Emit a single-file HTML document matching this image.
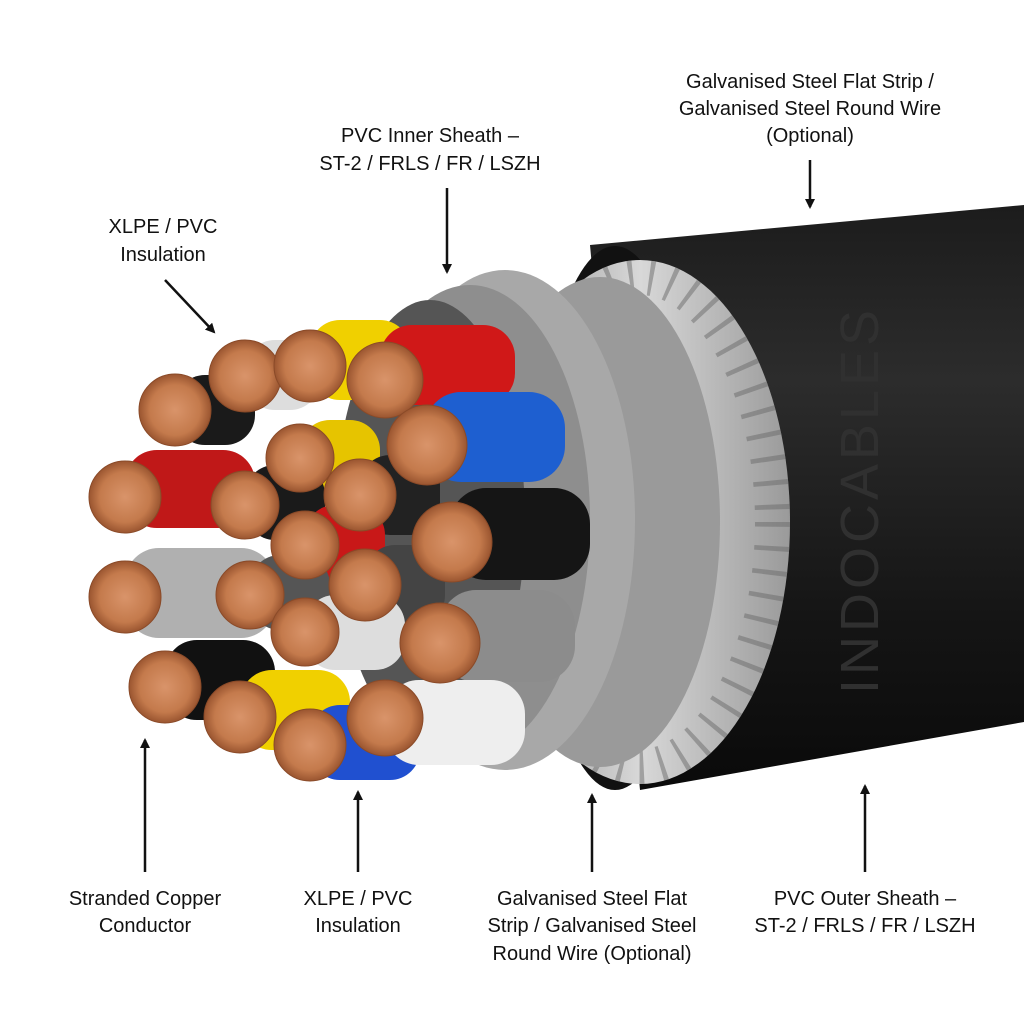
<!DOCTYPE html>
<html><head><meta charset="utf-8"><style>
html,body{margin:0;padding:0;background:#fff;width:1024px;height:1024px;overflow:hidden}
svg{display:block}
text{font-family:"Liberation Sans",sans-serif;font-size:20px;fill:#111;text-anchor:middle}
</style></head><body>
<svg width="1024" height="1024" viewBox="0 0 1024 1024" xmlns="http://www.w3.org/2000/svg">
<defs>
<linearGradient id="sh" x1="0" y1="0" x2="0" y2="1">
<stop offset="0" stop-color="#1c1c1c"/><stop offset="0.3" stop-color="#2c2c2c"/><stop offset="0.7" stop-color="#151515"/><stop offset="1" stop-color="#0a0a0a"/></linearGradient>
<linearGradient id="ar" x1="0" y1="0" x2="1" y2="0">
<stop offset="0" stop-color="#8a8a8a"/><stop offset="0.5" stop-color="#d8d8d8"/><stop offset="1" stop-color="#9a9a9a"/></linearGradient>
<radialGradient id="cu" cx="0.5" cy="0.5" r="0.5">
<stop offset="0" stop-color="#d9946a"/><stop offset="0.7" stop-color="#c47a4c"/><stop offset="1" stop-color="#9a5530"/></radialGradient>
<clipPath id="ac"><ellipse cx="640" cy="522" rx="150" ry="262"/></clipPath>
<marker id="ah" markerWidth="10" markerHeight="10" refX="8" refY="5" orient="auto" markerUnits="userSpaceOnUse"><path d="M0,0 L10,5 L0,10 z" fill="#111"/></marker>
</defs>
<path d="M590,245 L1024,205 L1024,722 L640,790 Z" fill="url(#sh)"/>
<ellipse cx="615" cy="518" rx="80" ry="272" fill="#111"/>
<ellipse cx="640" cy="522" rx="150" ry="262" fill="url(#ar)"/>
<g clip-path="url(#ac)">
<ellipse cx="640" cy="522" rx="150" ry="262" fill="none" stroke="#6a6a6a" stroke-width="70" stroke-dasharray="5 20" opacity="0.5"/>
</g>
<ellipse cx="600" cy="522" rx="120" ry="245" fill="#9a9a9a"/>
<ellipse cx="505" cy="520" rx="130" ry="250" fill="#a8a8a8"/>
<ellipse cx="470" cy="520" rx="120" ry="235" fill="#8e8e8e"/>
<ellipse cx="430" cy="520" rx="95" ry="220" fill="#555"/>
<g>
<rect x="175" y="375" width="80" height="70" rx="30" fill="#1a1a1a"/>
<rect x="245" y="340" width="75" height="70" rx="30" fill="#ddd"/>
<rect x="310" y="320" width="100" height="80" rx="30" fill="#f0d000"/>
<rect x="380" y="325" width="135" height="80" rx="32" fill="#d01818"/>
<rect x="125" y="450" width="130" height="78" rx="32" fill="#c01818"/>
<rect x="300" y="420" width="80" height="72" rx="30" fill="#e6c400"/>
<rect x="245" y="465" width="80" height="75" rx="30" fill="#1a1a1a"/>
<rect x="425" y="392" width="140" height="90" rx="36" fill="#1e5fd0"/>
<rect x="360" y="455" width="80" height="80" rx="30" fill="#222"/>
<rect x="450" y="488" width="140" height="92" rx="36" fill="#151515"/>
<rect x="125" y="548" width="150" height="90" rx="34" fill="#b0b0b0"/>
<rect x="305" y="505" width="80" height="75" rx="30" fill="#c81818"/>
<rect x="250" y="555" width="80" height="75" rx="30" fill="#555"/>
<rect x="365" y="545" width="80" height="80" rx="30" fill="#444"/>
<rect x="440" y="590" width="135" height="92" rx="36" fill="#8c8c8c"/>
<rect x="165" y="640" width="110" height="80" rx="32" fill="#111"/>
<rect x="305" y="595" width="100" height="75" rx="30" fill="#ddd"/>
<rect x="240" y="670" width="110" height="80" rx="32" fill="#f0d000"/>
<rect x="310" y="705" width="110" height="75" rx="30" fill="#2050d0"/>
<rect x="385" y="680" width="140" height="85" rx="34" fill="#eee"/>
</g>
<g fill="url(#cu)" stroke="#8a4a28" stroke-width="1">
<circle cx="175" cy="410" r="36"/><circle cx="245" cy="376" r="36"/><circle cx="310" cy="366" r="36"/><circle cx="385" cy="380" r="38"/>
<circle cx="125" cy="497" r="36"/><circle cx="245" cy="505" r="34"/><circle cx="300" cy="458" r="34"/><circle cx="360" cy="495" r="36"/><circle cx="427" cy="445" r="40"/>
<circle cx="125" cy="597" r="36"/><circle cx="250" cy="595" r="34"/><circle cx="305" cy="545" r="34"/><circle cx="365" cy="585" r="36"/><circle cx="452" cy="542" r="40"/>
<circle cx="165" cy="687" r="36"/><circle cx="305" cy="632" r="34"/><circle cx="440" cy="643" r="40"/>
<circle cx="240" cy="717" r="36"/><circle cx="310" cy="745" r="36"/><circle cx="385" cy="718" r="38"/>
</g>
<text transform="translate(878,500) rotate(-90)" style="font-size:54px;fill:#303030;letter-spacing:4px">INDOCABLES</text>
<text x="810" y="88">Galvanised Steel Flat Strip /</text>
<text x="810" y="115">Galvanised Steel Round Wire</text>
<text x="810" y="142">(Optional)</text>
<line x1="810" y1="160" x2="810" y2="207" stroke="#111" stroke-width="2.5" marker-end="url(#ah)"/>
<text x="430" y="142">PVC Inner Sheath –</text>
<text x="430" y="170">ST-2 / FRLS / FR / LSZH</text>
<line x1="447" y1="188" x2="447" y2="272" stroke="#111" stroke-width="2.5" marker-end="url(#ah)"/>
<text x="163" y="233">XLPE / PVC</text>
<text x="163" y="261">Insulation</text>
<line x1="165" y1="280" x2="214" y2="332" stroke="#111" stroke-width="2.5" marker-end="url(#ah)"/>
<line x1="145" y1="872" x2="145" y2="740" stroke="#111" stroke-width="2.5" marker-end="url(#ah)"/>
<text x="145" y="905">Stranded Copper</text>
<text x="145" y="932">Conductor</text>
<line x1="358" y1="872" x2="358" y2="792" stroke="#111" stroke-width="2.5" marker-end="url(#ah)"/>
<text x="358" y="905">XLPE / PVC</text>
<text x="358" y="932">Insulation</text>
<line x1="592" y1="872" x2="592" y2="795" stroke="#111" stroke-width="2.5" marker-end="url(#ah)"/>
<text x="592" y="905">Galvanised Steel Flat</text>
<text x="592" y="932">Strip / Galvanised Steel</text>
<text x="592" y="960">Round Wire (Optional)</text>
<line x1="865" y1="872" x2="865" y2="786" stroke="#111" stroke-width="2.5" marker-end="url(#ah)"/>
<text x="865" y="905">PVC Outer Sheath –</text>
<text x="865" y="932">ST-2 / FRLS / FR / LSZH</text>
</svg>
</body></html>
